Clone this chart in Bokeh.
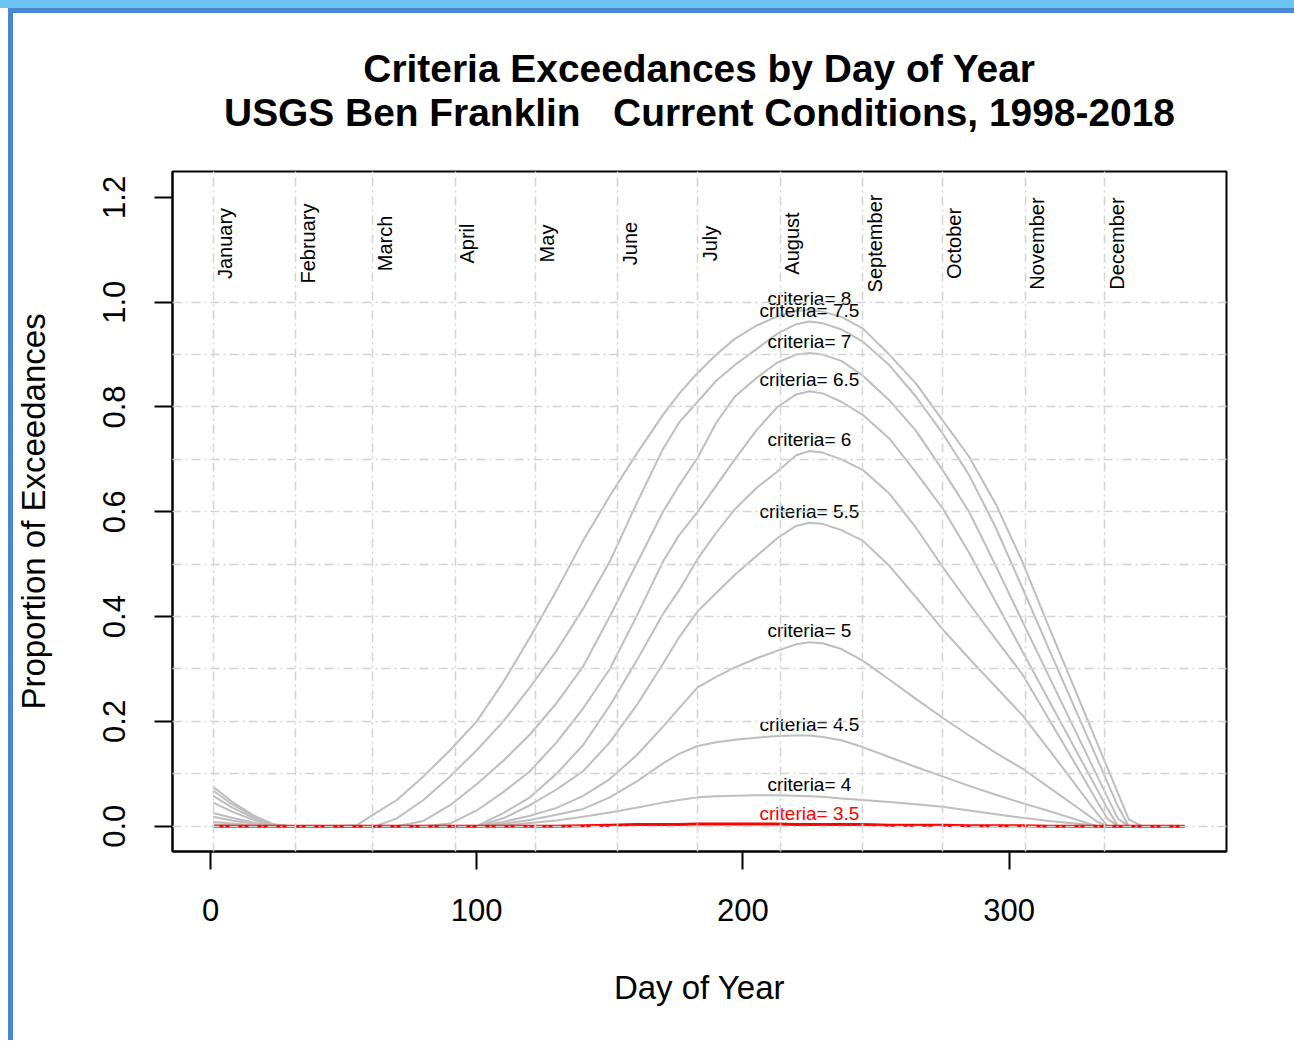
import math
from bokeh.plotting import figure
from bokeh.models import Range1d, FixedTicker, PrintfTickFormatter, ColumnDataSource
from bokeh.embed import file_html
from bokeh.resources import INLINE
from bokeh.core.properties import value

# ---------------- data ----------------
days = [1, 8, 16, 24, 30, 45, 55, 62, 70, 80, 90, 100, 110, 120, 130, 140, 150, 160, 170, 176,
        183, 190, 197, 205, 213, 220, 225, 230, 237, 245, 255, 265, 275, 285, 295, 305, 315, 325,
        333, 337, 341, 345, 350, 366]

criteria = [3.5, 4, 4.5, 5, 5.5, 6, 6.5, 7, 7.5, 8]

prop_3_5 = [0, 0, 0, 0, 0, 0, 0, 0, 0, 0, 0, 0, 0, 0, 0, 0.001, 0.002, 0.003, 0.003, 0.003,
            0.004, 0.004, 0.004, 0.004, 0.004, 0.003, 0.003, 0.003, 0.003, 0.003, 0.002, 0.002, 0.002, 0.001, 0.001,
            0.001, 0, 0, 0, 0, 0, 0, 0, 0]
prop_4 = [0, 0, 0, 0, 0, 0, 0, 0, 0, 0, 0, 0, 0.001, 0.006, 0.011, 0.018, 0.026, 0.035, 0.045, 0.05,
          0.055, 0.057, 0.058, 0.059, 0.059, 0.058, 0.057, 0.056, 0.053, 0.05, 0.046, 0.042, 0.037, 0.03, 0.023,
          0.016, 0.01, 0.005, 0.001, 0, 0, 0, 0, 0]
prop_4_5 = [0.003, 0.002, 0.001, 0, 0, 0, 0, 0, 0, 0, 0, 0, 0.004, 0.012, 0.022, 0.033, 0.055, 0.085, 0.12, 0.138,
            0.153, 0.16, 0.165, 0.169, 0.172, 0.173, 0.173, 0.17, 0.164, 0.151, 0.132, 0.113, 0.095, 0.077, 0.06,
            0.044, 0.029, 0.013, 0, 0, 0, 0, 0, 0]
prop_5 = [0.008, 0.005, 0.002, 0, 0, 0, 0, 0, 0, 0, 0, 0, 0.008, 0.02, 0.035, 0.058, 0.09, 0.135, 0.19, 0.225,
          0.265, 0.285, 0.303, 0.32, 0.335, 0.347, 0.351, 0.349, 0.338, 0.316, 0.28, 0.243, 0.207, 0.173, 0.14,
          0.11, 0.074, 0.038, 0.009, 0, 0, 0, 0, 0]
prop_5_5 = [0.018, 0.011, 0.005, 0.001, 0, 0, 0, 0, 0, 0, 0, 0, 0.015, 0.04, 0.07, 0.105, 0.16, 0.23, 0.31, 0.36,
            0.41, 0.445, 0.48, 0.515, 0.55, 0.573, 0.579, 0.577, 0.565, 0.545, 0.497, 0.437, 0.376, 0.32, 0.266,
            0.212, 0.146, 0.079, 0.025, 0, 0, 0, 0, 0]
prop_6 = [0.025, 0.016, 0.007, 0.001, 0, 0, 0, 0, 0, 0, 0, 0, 0.025, 0.055, 0.1, 0.155, 0.23, 0.315, 0.405, 0.45,
          0.51, 0.56, 0.605, 0.645, 0.677, 0.708, 0.716, 0.713, 0.7, 0.68, 0.635, 0.57, 0.495, 0.425, 0.357,
          0.29, 0.204, 0.118, 0.048, 0.014, 0, 0, 0, 0]
prop_6_5 = [0.045, 0.028, 0.012, 0.002, 0, 0, 0, 0, 0, 0, 0.005, 0.03, 0.065, 0.105, 0.16, 0.225, 0.3, 0.4, 0.505, 0.555,
            0.6, 0.65, 0.7, 0.755, 0.8, 0.824, 0.83, 0.826, 0.81, 0.785, 0.74, 0.675, 0.607, 0.522, 0.428,
            0.334, 0.24, 0.146, 0.071, 0.033, 0, 0, 0, 0]
prop_7 = [0.058, 0.036, 0.016, 0.002, 0, 0, 0, 0, 0, 0.01, 0.04, 0.08, 0.125, 0.175, 0.235, 0.305, 0.4, 0.5, 0.6, 0.65,
          0.703, 0.77, 0.82, 0.855, 0.885, 0.9, 0.903, 0.9, 0.888, 0.86, 0.813, 0.755, 0.68, 0.6, 0.497,
          0.391, 0.286, 0.181, 0.097, 0.055, 0.014, 0, 0, 0]
prop_7_5 = [0.068, 0.042, 0.019, 0.003, 0, 0, 0, 0, 0.015, 0.05, 0.095, 0.145, 0.2, 0.265, 0.335, 0.415, 0.505, 0.615, 0.72, 0.77,
            0.81, 0.85, 0.88, 0.91, 0.94, 0.958, 0.963, 0.96, 0.948, 0.925, 0.88, 0.82, 0.75, 0.67, 0.57,
            0.455, 0.338, 0.222, 0.13, 0.083, 0.037, 0, 0, 0]
prop_8 = [0.075, 0.047, 0.021, 0.003, 0, 0, 0.002, 0.025, 0.05, 0.095, 0.145, 0.2, 0.275, 0.36, 0.45, 0.545, 0.63, 0.71, 0.785, 0.825,
          0.865, 0.9, 0.93, 0.955, 0.973, 0.983, 0.985, 0.982, 0.972, 0.95, 0.9, 0.845, 0.775, 0.705, 0.615,
          0.505, 0.38, 0.258, 0.16, 0.111, 0.062, 0.013, 0, 0]

series = [prop_3_5, prop_4, prop_4_5, prop_5, prop_5_5, prop_6, prop_6_5, prop_7, prop_7_5, prop_8]

month_names = ["January", "February", "March", "April", "May", "June", "July",
               "August", "September", "October", "November", "December"]
month_start = [1, 32, 61, 92, 122, 153, 183, 214, 245, 275, 306, 336]

x_ticks = [0, 100, 200, 300]
y_ticks = [0.0, 0.2, 0.4, 0.6, 0.8, 1.0, 1.2]
y_grid = [0.0, 0.1, 0.2, 0.3, 0.4, 0.5, 0.6, 0.7, 0.8, 0.9, 1.0]

label_day = 225
month_label_y = 1.112

title_1 = "Criteria Exceedances by Day of Year"
title_2 = "USGS Ben Franklin\u00a0\u00a0\u00a0Current Conditions, 1998-2018"

# ---------------- figure ----------------
FONT = "Liberation Sans"
p = figure(frame_width=1054, frame_height=680,
           min_border_left=172, min_border_right=68, min_border_top=171, min_border_bottom=189,
           x_range=Range1d(-14.28, 381.7), y_range=Range1d(-0.0483, 1.2494),
           output_backend="svg", toolbar_location=None)
p.background_fill_color = "white"
p.border_fill_alpha = 0
p.outline_line_color = "black"
p.outline_line_width = 2
p.outline_line_alpha = 1
# slide frame: light band on top, blue rules on left and top
p.styles = {"box-shadow": "inset 0 8px 0 0 #6cc4f2, inset 8px 0 0 0 white, inset 13px 13px 0 0 #4a86d4",
            "background-color": "white"}

# two-line title
p.title.text = title_1 + "\n" + title_2
p.title.align = "center"
p.title.text_align = "center"
p.title.text_font = FONT
p.title.text_font_size = "38.9px"
p.title.text_font_style = "bold"
p.title.text_color = "black"
p.title.text_line_height = 1.04
p.title.standoff = 74

# axes
for ax in (p.xaxis[0], p.yaxis[0]):
    ax.axis_line_color = "black"
    ax.axis_line_width = 2
    ax.major_tick_line_color = "black"
    ax.major_tick_line_width = 2
    ax.major_tick_out = 18
    ax.major_tick_in = 0
    ax.minor_tick_line_color = None
    ax.major_label_text_font = FONT
    ax.major_label_text_font_size = "31px"
    ax.major_label_text_color = "black"
    ax.axis_label_text_font = FONT
    ax.axis_label_text_font_size = "33px"
    ax.axis_label_text_font_style = "normal"
    ax.axis_label_text_color = "black"

p.xaxis.ticker = FixedTicker(ticks=x_ticks)
p.xaxis.axis_label = "Day of Year"
p.xaxis.major_label_standoff = 29
p.xaxis.axis_label_standoff = 45

p.yaxis.ticker = FixedTicker(ticks=y_ticks)
p.yaxis.formatter = PrintfTickFormatter(format="%.1f")
p.yaxis.major_label_orientation = "vertical"
p.yaxis.axis_label = "Proportion of Exceedances"
p.yaxis.major_label_standoff = 29
p.yaxis.axis_label_standoff = 49

# grid (month starts, tenths), drawn above the curves like R's grid()
p.xgrid.ticker = FixedTicker(ticks=month_start)
p.ygrid.ticker = FixedTicker(ticks=y_grid)
for g in (p.xgrid[0], p.ygrid[0]):
    g.grid_line_color = "#d3d3d3"
    g.grid_line_width = 1.5
    g.grid_line_dash = "9 4 2 4"
    g.level = "annotation"

# curves
for c, vals in zip(criteria, series):
    if c == 3.5:
        continue
    p.line(days, vals, line_color="#bebebe", line_width=2, line_join="round")
p.line(days, prop_3_5, line_color="red", line_width=3, line_join="round")

# criteria labels at label_day
idx = days.index(label_day)
lab_src = ColumnDataSource(dict(
    x=[label_day] * len(criteria),
    y=[s[idx] for s in series],
    text=["criteria= %g" % c for c in criteria],
    color=["red" if c == 3.5 else "black" for c in criteria],
))
p.text(x="x", y="y", text="text", source=lab_src, text_color="color",
       text_align="center", text_baseline="bottom", y_offset=-1,
       text_font=value(FONT), text_font_size="19px")

# month labels
mon_src = ColumnDataSource(dict(x=month_start, y=[month_label_y] * 12, text=month_names))
p.text(x="x", y="y", text="text", source=mon_src, angle=math.pi / 2,
       text_align="center", text_baseline="top", x_offset=1,
       text_color="black", text_font=value(FONT), text_font_size="20px")

open("out.html", "w").write(file_html(p, INLINE))
